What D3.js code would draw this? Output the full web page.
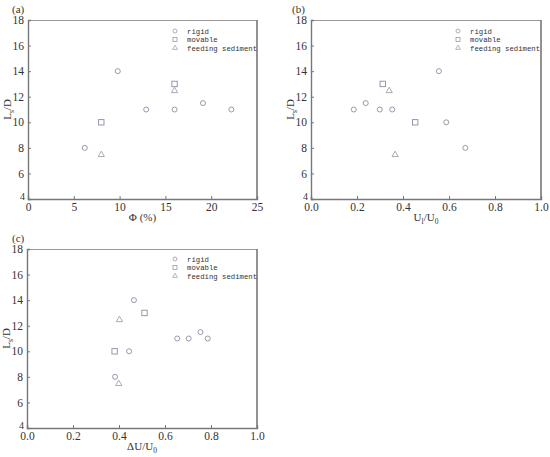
<!DOCTYPE html>
<html><head><meta charset="utf-8">
<script src="https://cdn.jsdelivr.net/npm/d3@7"></script>
<style>
body{margin:0;background:#fff;}
svg text{font-family:"Liberation Serif","DejaVu Serif",serif;fill:#333;}
.leg{font-family:"Liberation Mono","DejaVu Sans Mono",monospace !important;}
</style></head>
<body>
<svg id="c" width="550" height="457"></svg>
<script>
// ---- data ----
const seriesNames = ["rigid", "movable", "feeding sediment"];
const yTicks = [4, 6, 8, 10, 12, 14, 16, 18];
const xTicksA = [0, 5, 10, 15, 20, 25];
const xTicksBC = [0, 0.2, 0.4, 0.6, 0.8, 1.0];

// panel (a): x = Φ (%)
const aRigidX = [6.2, 8.0, 9.8, 12.9, 16.0, 19.1, 22.2];
const aRigidY = [8, 10, 14, 11, 11, 11.5, 11];
const aMovX = [8.0, 16.0];
const aMovY = [10, 13];
const aFeedX = [8.0, 16.0];
const aFeedY = [7.5, 12.5];

// panel (b): x = Ul/U0
const bRigidX = [0.186, 0.238, 0.299, 0.353, 0.556, 0.588, 0.671];
const bRigidY = [11, 11.5, 11, 11, 14, 10, 8];
const bMovX = [0.312, 0.453];
const bMovY = [13, 10];
const bFeedX = [0.340, 0.366];
const bFeedY = [12.5, 7.5];

// panel (c): x = ΔU/U0
const cRigidX = [0.465, 0.444, 0.383, 0.653, 0.703, 0.754, 0.786];
const cRigidY = [14, 10, 8, 11, 11, 11.5, 11];
const cMovX = [0.511, 0.381];
const cMovY = [13, 10];
const cFeedX = [0.402, 0.399];
const cFeedY = [12.5, 7.5];

const svg = d3.select("#c");
const markColor = "#9898ae";
const triColor = "#a2a2ac";

function zip(xs, ys){ return xs.map((x,i)=>({x, y: ys[i]})); }

function panel(cfg){
  const g = svg.append("g");
  const x = d3.scaleLinear().domain(cfg.xDomain).range([cfg.left, cfg.right]);
  const y = d3.scaleLinear().domain([4, 18]).range([cfg.bottom, cfg.top]);

  // frame
  g.append("line").attr("x1",cfg.left).attr("x2",cfg.right).attr("y1",cfg.top+0.5).attr("y2",cfg.top+0.5)
    .attr("stroke","#999").attr("stroke-width",1);
  g.append("line").attr("x1",cfg.right).attr("x2",cfg.right).attr("y1",cfg.top).attr("y2",cfg.bottom)
    .attr("stroke","#777").attr("stroke-width",1.6);

  const xa = g.append("g").attr("transform",`translate(0,${cfg.bottom})`)
    .call(d3.axisBottom(x).tickValues(cfg.xTicks).tickSize(-3).tickPadding(4).tickFormat(cfg.fmt));
  const ya = g.append("g").attr("transform",`translate(${cfg.left},0)`)
    .call(d3.axisLeft(y).tickValues(yTicks).tickSize(-3).tickPadding(4));
  [xa, ya].forEach(a=>{
    a.select(".domain").attr("stroke","#777").attr("stroke-width",1.4);
    a.selectAll(".tick line").attr("stroke","#777");
    a.selectAll(".tick text").style("font-size","11.5px").attr("fill","#444");
  });
  // bottom "4" label sits a little higher and tighter
  ya.selectAll(".tick").filter(d=>d===4).select("text").attr("dy","0.05em").attr("x",-3).style("font-size","10px");

  // marks
  g.selectAll(".r").data(zip(cfg.rx, cfg.ry)).join("circle")
    .attr("cx",d=>x(d.x)).attr("cy",d=>y(d.y)).attr("r",2.5)
    .attr("fill","none").attr("stroke",markColor).attr("stroke-width",1);
  g.selectAll(".m").data(zip(cfg.mx, cfg.my)).join("rect")
    .attr("x",d=>x(d.x)-2.7).attr("y",d=>y(d.y)-2.7).attr("width",5.4).attr("height",5.4)
    .attr("fill","#fff").attr("stroke",markColor).attr("stroke-width",1);
  const tri = d3.symbol().type(d3.symbolTriangle).size(17);
  g.selectAll(".f").data(zip(cfg.fx, cfg.fy)).join("path")
    .attr("d",tri).attr("transform",d=>`translate(${x(d.x)},${y(d.y)+0.5})`)
    .attr("fill","none").attr("stroke",triColor).attr("stroke-width",0.9);

  // legend
  const lg = g.append("g").attr("transform",`translate(${cfg.legX},${cfg.legY})`);
  seriesNames.forEach((n,i)=>{
    const yy = i*8.5;
    if(i===0) lg.append("circle").attr("cx",0).attr("cy",yy).attr("r",2).attr("fill","none").attr("stroke",markColor).attr("stroke-width",0.8);
    if(i===1) lg.append("rect").attr("x",-2).attr("y",yy-2).attr("width",4).attr("height",4).attr("fill","none").attr("stroke",markColor).attr("stroke-width",0.8);
    if(i===2) lg.append("path").attr("d",d3.symbol().type(d3.symbolTriangle).size(10)).attr("transform",`translate(0,${yy})`).attr("fill","none").attr("stroke",triColor).attr("stroke-width",0.8);
    lg.append("text").attr("class","leg").attr("x",12).attr("y",yy+2.5).style("font-size","7.3px").attr("fill","#666").text(n);
  });

  // panel label
  g.append("text").attr("x",cfg.tagX).attr("y",cfg.tagY).style("font-size","11px").attr("fill","#333").text(cfg.tag);

  // y label
  const yl = g.append("text").attr("transform",`translate(${cfg.left-17},${(cfg.top+cfg.bottom)/2}) rotate(-90)`)
    .attr("text-anchor","middle").style("font-size","11px").attr("fill","#444");
  yl.append("tspan").text("L");
  yl.append("tspan").attr("dy",2.5).style("font-size","7.5px").text("s");
  yl.append("tspan").attr("dy",-2.5).text("/D");

  // x label
  const xl = g.append("text").attr("x",(cfg.left+cfg.right)/2).attr("y",cfg.bottom+22)
    .attr("text-anchor","middle").style("font-size","11px").attr("fill","#444");
  cfg.xlab.forEach(p=>{
    const t = xl.append("tspan").text(p.t);
    if(p.sub){ t.attr("dy",2.5).style("font-size","7.5px"); }
    if(p.up){ t.attr("dy",-2.5); }
  });
}

const f1 = d3.format(".1f");
panel({tag:"(a)", tagX:12, tagY:13, left:28, right:257, top:20, bottom:199,
  xDomain:[0,25], xTicks:xTicksA, fmt:d3.format("d"),
  rx:aRigidX, ry:aRigidY, mx:aMovX, my:aMovY, fx:aFeedX, fy:aFeedY,
  legX:175, legY:31, xlab:[{t:"Φ (%)"}]});
panel({tag:"(b)", tagX:292, tagY:13, left:311, right:541, top:20, bottom:199,
  xDomain:[0,1], xTicks:xTicksBC, fmt:f1,
  rx:bRigidX, ry:bRigidY, mx:bMovX, my:bMovY, fx:bFeedX, fy:bFeedY,
  legX:458, legY:31, xlab:[{t:"U"},{t:"l",sub:true},{t:"/U",up:true},{t:"0",sub:true}]});
panel({tag:"(c)", tagX:12, tagY:242, left:27, right:257, top:249, bottom:428,
  xDomain:[0,1], xTicks:xTicksBC, fmt:f1,
  rx:cRigidX, ry:cRigidY, mx:cMovX, my:cMovY, fx:cFeedX, fy:cFeedY,
  legX:175, legY:259, xlab:[{t:"ΔU/U"},{t:"0",sub:true}]});
</script>
</body></html>
